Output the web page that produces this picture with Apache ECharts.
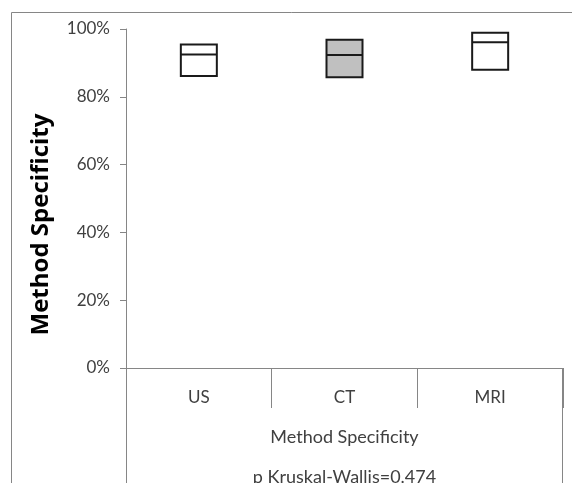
<!DOCTYPE html>
<html>
<head>
<meta charset="utf-8">
<script src="https://cdn.jsdelivr.net/npm/echarts@6/dist/echarts.min.js"></script>
<style>
html,body{margin:0;padding:0;background:#fff;}
#chart{width:572px;height:483px;}
</style>
</head>
<body>
<div id="chart"></div>
<script>
var categories = ['US', 'CT', 'MRI'];
var q1Values = [86.1, 85.8, 88.0];
var medianValues = [92.5, 92.3, 96.1];
var q3Values = [95.4, 96.8, 98.9];
var boxFills = ['#ffffff', '#c0c0c0', '#ffffff'];
var yTicks = [0, 20, 40, 60, 80, 100];
var yTitle = 'Method Specificity';
var xTitle = 'Method Specificity';
var xSubtitle = 'p Kruskal-Wallis=0.474';

var FONT = 'Lato';
var chart = echarts.init(document.getElementById('chart'), null, {renderer: 'canvas'});

var boxData = categories.map(function (c, i) {
  return {
    value: [q1Values[i], q1Values[i], medianValues[i], q3Values[i], q3Values[i]],
    itemStyle: {color: boxFills[i], borderColor: '#1a1a1a', borderWidth: 2}
  };
});

var option = {
  animation: false,
  backgroundColor: '#ffffff',
  grid: {left: 126, right: 9, top: 29, bottom: 115, containLabel: false, outerBoundsMode: 'none'},
  xAxis: {
    type: 'category',
    data: categories,
    boundaryGap: true,
    axisLine: {show: true, lineStyle: {color: '#868686', width: 1}},
    axisTick: {show: true, length: 40, lineStyle: {color: '#868686', width: 1}},
    axisLabel: {margin: 21, fontFamily: FONT, fontSize: 17, color: '#404040'},
    splitLine: {show: false},
    name: xTitle + '\n' + xSubtitle,
    nameLocation: 'middle',
    nameGap: 49,
    nameTextStyle: {fontFamily: FONT, fontSize: 18, color: '#404040', lineHeight: 40, verticalAlign: 'top'}
  },
  yAxis: {
    type: 'value',
    min: 0,
    max: 100,
    interval: 20,
    axisLine: {show: true, lineStyle: {color: '#868686', width: 1}},
    axisTick: {show: true, length: 6, lineStyle: {color: '#868686', width: 1}},
    axisLabel: {
      margin: 16, fontFamily: FONT, fontSize: 17, color: '#404040',
      formatter: function (v) { return yTicks.indexOf(v) >= 0 ? v + '%' : ''; }
    },
    splitLine: {show: false},
    name: yTitle,
    nameLocation: 'middle',
    nameRotate: 90,
    nameGap: 73,
    nameTextStyle: {fontFamily: 'Open Sans', fontSize: 24, fontWeight: 'bold', color: '#000000', padding: [0, 52, 0, 0]}
  },
  series: [{
    type: 'boxplot',
    data: boxData,
    boxWidth: [36, 36],
    itemStyle: {borderColor: '#1a1a1a', borderWidth: 2},
    emphasis: {disabled: true}
  }]
};
chart.setOption(option);

// frame lines (chart border and category table borders)
var yZero = chart.convertToPixel({yAxisIndex: 0}, 0);
var xLeft = 126, xRight = 563;
chart.setOption({
  graphic: [
    {type: 'polyline', shape: {points: [[11.5, 483], [11.5, 12.5], [572, 12.5]]}, style: {stroke: '#868686', lineWidth: 1, fill: null}, silent: true},
    {type: 'line', shape: {x1: xLeft + 0.5, y1: yZero, x2: xLeft + 0.5, y2: 483}, style: {stroke: '#868686', lineWidth: 1}, silent: true},
    {type: 'line', shape: {x1: xRight - 0.5, y1: yZero, x2: xRight - 0.5, y2: 483}, style: {stroke: '#868686', lineWidth: 1}, silent: true}
  ]
});
</script>
</body>
</html>
